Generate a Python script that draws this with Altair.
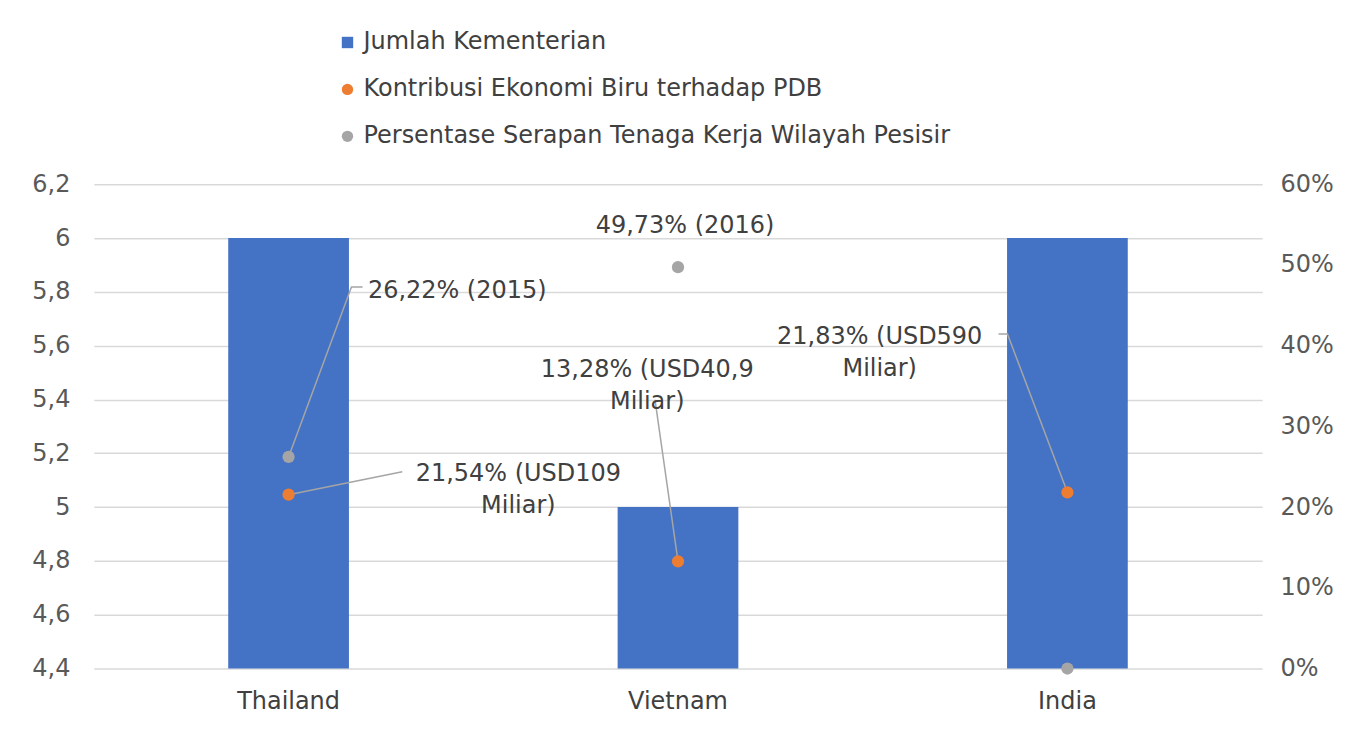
import altair as alt
import pandas as pd

# ---------------- data ----------------
countries = ["Thailand", "Vietnam", "India"]
jumlah_kementerian = [6, 5, 6]
kontribusi_pdb = [0.2154, 0.1328, 0.2183]
serapan_pesisir = [0.2622, 0.4973, 0.0]

series_names = [
    "Jumlah Kementerian",
    "Kontribusi Ekonomi Biru terhadap PDB",
    "Persentase Serapan Tenaga Kerja Wilayah Pesisir",
]
series_colors = ["#4472C4", "#ED7D31", "#A5A5A5"]
series_shapes = ["square", "circle", "circle"]

left_ticks = [4.4, 4.6, 4.8, 5.0, 5.2, 5.4, 5.6, 5.8, 6.0, 6.2]
right_ticks = [0.0, 0.1, 0.2, 0.3, 0.4, 0.5, 0.6]

# data labels: (country, series index, text)
label_country = ["Thailand", "Thailand", "Vietnam", "Vietnam", "India"]
label_series = [2, 1, 2, 1, 1]
label_text = [
    "26,22% (2015)",
    "21,54% (USD109\nMiliar)",
    "49,73% (2016)",
    "13,28% (USD40,9\nMiliar)",
    "21,83% (USD590\nMiliar)",
]

# ---------------- annotation layout (category-index units, percent units) ----------------
label_pos = [(0.933, 0.4677), (1.090, 0.2412), (1.518, 0.5481), (1.421, 0.3699), (2.018, 0.4107)]
# leader path points after the data point, per label (None = no leader)
leader_path = [
    [(0.6615, 0.4726), (0.690, 0.4726)],
    [(0.792, 0.2437)],
    None,
    [(1.441, 0.3328)],
    [(2.346, 0.4145), (2.323, 0.4145)],
]

FONT = "DejaVu Sans"
TEXT_COLOR = "#404040"
FS = 24

# ---------------- tables ----------------
bars_df = pd.DataFrame({
    "country": countries,
    "value": jumlah_kementerian,
    "series": series_names[0],
})
pts_df = pd.DataFrame({
    "country": countries * 2,
    "value": kontribusi_pdb + serapan_pesisir,
    "series": [series_names[1]] * 3 + [series_names[2]] * 3,
})
series_vals = [None, kontribusi_pdb, serapan_pesisir]

lab_rows, lead_rows = [], []
for i, (c, s, t) in enumerate(zip(label_country, label_series, label_text)):
    lab_rows.append({"ax": label_pos[i][0], "ay": label_pos[i][1], "text": t})
    if leader_path[i] is None:
        continue
    ci = countries.index(c)
    pts = [(ci + 0.5, series_vals[s][ci])] + leader_path[i]
    for k, (px, py) in enumerate(pts):
        lead_rows.append({"lid": i, "ord": k, "ax": px, "ay": py})
lab_df = pd.DataFrame(lab_rows)
lead_df = pd.DataFrame(lead_rows)

# ---------------- chart ----------------
color_scale = alt.Scale(domain=series_names, range=series_colors)
shape_scale = alt.Scale(domain=series_names, range=series_shapes)
band = alt.Scale(domain=countries, paddingInner=0.69, paddingOuter=0.345)

legend = alt.Legend(
    title=None, orient="none", legendX=242, legendY=-154, direction="vertical",
    labelFont=FONT, labelFontSize=FS, labelColor=TEXT_COLOR, labelLimit=900,
    symbolSize=130, symbolStrokeWidth=0, rowPadding=23, labelOffset=4,
)

bars = alt.Chart(bars_df).mark_bar(color="#4472C4", clip=True).encode(
    x=alt.X("country:N", scale=band, sort=countries, title=None,
            axis=alt.Axis(labelAngle=0, labelFont=FONT, labelFontSize=FS, labelColor=TEXT_COLOR,
                          domain=False, ticks=False, labelPadding=21, grid=False)),
    y=alt.Y("value:Q", title=None,
            scale=alt.Scale(domain=[4.4, 6.2], zero=False, nice=False),
            axis=alt.Axis(values=left_ticks, labelExpr="replace(format(datum.value, '~g'), '.', ',')",
                          labelFont=FONT, labelFontSize=FS, labelColor="#595959",
                          domain=False, ticks=False, labelPadding=24,
                          grid=True, gridColor="#D9D9D9", gridWidth=1.5)),
    color=alt.Color("series:N", scale=color_scale, legend=legend),
)

points = alt.Chart(pts_df).mark_point(filled=True, size=150, opacity=1).encode(
    x=alt.X("country:N", scale=band, sort=countries, axis=None),
    y=alt.Y("value:Q", title=None,
            scale=alt.Scale(domain=[0, 0.6], nice=False),
            axis=alt.Axis(orient="right", values=right_ticks, format=".0%",
                          labelFont=FONT, labelFontSize=FS, labelColor="#595959",
                          domain=False, ticks=False, labelPadding=18, grid=False)),
    color=alt.Color("series:N", scale=color_scale, legend=legend),
    shape=alt.Shape("series:N", scale=shape_scale, legend=legend),
)

qx = alt.Scale(domain=[0, 3], nice=False, zero=True)
qy = alt.Scale(domain=[0, 0.6], nice=False)

leaders = alt.Chart(lead_df).mark_line(color="#A5A5A5", strokeWidth=1.5).encode(
    x=alt.X("ax:Q", scale=qx, axis=None),
    y=alt.Y("ay:Q", scale=qy, axis=None),
    detail="lid:N",
    order="ord:Q",
)

labels = alt.Chart(lab_df).mark_text(
    font=FONT, fontSize=FS, color=TEXT_COLOR, align="center", baseline="middle",
    lineBreak="\n", lineHeight=32,
).encode(
    x=alt.X("ax:Q", scale=qx, axis=None),
    y=alt.Y("ay:Q", scale=qy, axis=None),
    text="text:N",
)

chart = alt.layer(bars, leaders, points, labels).resolve_scale(
    x="independent", y="independent"
).properties(
    width=1170, height=485,
    autosize=alt.AutoSizeParams(type="none"),
    padding={"left": 86, "top": 176, "right": 80, "bottom": 56},
).configure_view(stroke=None)

chart.save("out.html", embed_options={"renderer": "svg", "actions": False})
